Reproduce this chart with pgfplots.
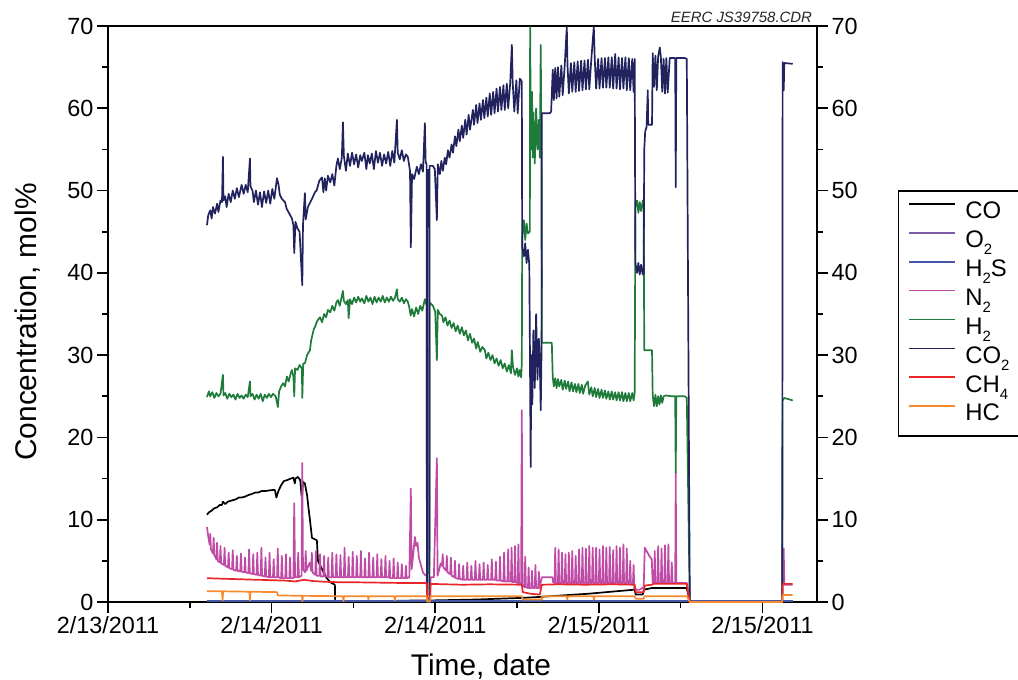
\documentclass[border=0pt]{standalone}
\usepackage{pgfplots}
\pgfplotsset{compat=1.18}
\usepackage{fontspec}
\setmainfont{Liberation Sans}
\definecolor{cCO}{HTML}{000000}
\definecolor{cO2}{HTML}{7B5AA6}
\definecolor{cH2S}{HTML}{4658A8}
\definecolor{cN2}{HTML}{C04BA6}
\definecolor{cH2}{HTML}{1E7B3A}
\definecolor{cCO2}{HTML}{22235E}
\definecolor{cCH4}{HTML}{E8262A}
\definecolor{cHC}{HTML}{F58A2E}
\newcommand{\sub}[1]{\raisebox{-0.3em}{\fontsize{15}{15}\selectfont #1}}
\begin{document}
\begin{tikzpicture}
\pgfplotsset{
  commonax/.style={
    at={(0,0)}, anchor=south west,
    width=709bp, height=576bp, scale only axis,
    xmin=0, xmax=52, ymin=0, ymax=70,
    ytick={0,10,...,70}, minor y tick num=1,
    tick align=outside,
    major tick length=11bp, minor tick length=5.5bp,
    every tick/.style={black, line width=1.6bp},
    axis line style={line width=1.6bp},
    tick label style={font=\fontsize{23.5}{25}\selectfont},
    /pgf/number format/assume math mode=true,
  }
}
\begin{axis}[commonax,
  xtick={0,12,24,36,48},
  xticklabels={2/13/2011,2/14/2011,2/14/2011,2/15/2011,2/15/2011},
  minor x tick num=1,
  xtick pos=left, ytick pos=left,
  label style={font=\fontsize{30}{32}\selectfont},
  xlabel={Time, date},
  ylabel={Concentration, mol\%},
  xlabel style={at={(axis description cs:0.526,-0.127)}, anchor=base},
  ylabel style={at={(axis description cs:-0.114,0.486)}, anchor=center},
  clip=false,
  every axis plot/.append style={line join=round, no marks},
  legend style={at={(axis description cs:1.114,0.715)}, anchor=north west,
    draw=black, line width=1.6bp, font=\fontsize{24}{28}\selectfont,
    inner xsep=10bp, inner ysep=7bp,
    nodes={inner ysep=3.2bp, inner xsep=3bp, text height=17.5bp, text depth=5bp},
    /tikz/every odd column/.append style={column sep=6bp}},
  legend cell align=left,
  legend image code/.code={\draw[#1] (0bp,8.5bp) -- (46bp,8.5bp);},
]
% CO
\addplot[color=cCO, line width=1.7bp] coordinates {(7.26,10.6) (7.4,10.9) (7.6,11.1) (7.8,11.4) (8.0,11.5) (8.2,11.8) (8.36,11.8) (8.43,12.2) (8.6,11.9) (8.8,12.2) (9.0,12.3) (9.2,12.4) (9.4,12.5) (9.6,12.7) (9.8,12.7) (10.04,12.8) (10.3,13.0) (10.5,13.1) (10.8,13.3) (11.0,13.3) (11.3,13.5) (11.6,13.5) (12.0,13.6) (12.24,13.6) (12.35,12.7) (12.5,13.5) (12.7,14.2) (12.9,14.7) (13.12,14.8) (13.4,15.0) (13.6,15.1) (13.7,14.4) (13.75,15.0) (13.93,15.2) (14.1,14.8) (14.22,12.5) (14.3,14.6) (14.44,14.4) (14.6,13.0) (14.7,11.5) (14.81,10.0) (14.96,7.8) (15.2,7.6) (15.32,7.5) (15.4,5.0) (15.7,4.0) (16.0,3.0) (16.3,2.4) (16.64,2.1) (16.66,0) (17.5,0.05) (20,0.1) (23,0.2) (24,0.2) (27,0.3) (30.35,0.5) (31.5,0.6) (35.19,1.0) (38.63,1.5) (38.7,0.9) (39.22,0.9) (39.3,1.5) (39.88,1.7) (42.45,1.7) (42.67,0) (49.45,0) (50.22,0)};
\addlegendentry{CO}
% O2
\addplot[color=cO2, line width=1.7bp] coordinates {(7.26,0.05) (42.67,0.05) (50.22,0.05)};
\addlegendentry{O\sub{2}}
% H2S
\addplot[color=cH2S, line width=1.7bp] coordinates {(7.26,0.1) (42.67,0.1) (50.22,0.1)};
\addlegendentry{H\sub{2}S}
% N2
\addplot[color=cN2, line width=1.7bp] coordinates {(7.26,9.1) (7.35,8.0) (7.45,7.0) (7.5,8.3) (7.55,6.4) (7.7,5.9) (7.75,7.8) (7.8,5.7) (7.95,5.2) (8.0,7.2) (8.05,5.0) (8.2,4.8) (8.25,6.8) (8.3,4.7) (8.5,4.5) (8.55,6.6) (8.6,4.4) (8.8,4.2) (8.85,6.0) (8.9,4.1) (9.1,4.0) (9.15,6.3) (9.2,3.9) (9.4,3.8) (9.45,5.6) (9.5,3.8) (9.7,3.7) (9.75,5.9) (9.8,3.7) (10.0,3.6) (10.05,5.4) (10.1,3.6) (10.3,3.5) (10.35,6.4) (10.4,3.5) (10.6,3.4) (10.65,5.8) (10.7,3.4) (10.9,3.3) (10.95,6.0) (11.0,3.3) (11.2,3.2) (11.25,6.6) (11.3,3.2) (11.5,3.1) (11.55,5.4) (11.6,3.1) (11.8,3.0) (11.85,6.0) (11.9,3.0) (12.1,3.0) (12.15,5.2) (12.2,3.0) (12.4,3.0) (12.45,6.5) (12.5,3.0) (12.7,2.9) (12.75,5.6) (12.8,2.9) (13.0,2.9) (13.05,5.8) (13.1,2.9) (13.3,2.9) (13.35,5.4) (13.4,2.9) (13.6,2.9) (13.66,12.0) (13.72,3.0) (13.9,3.0) (13.95,6.0) (14.0,3.0) (14.2,3.2) (14.25,16.9) (14.3,4.0) (14.45,3.6) (14.5,6.2) (14.55,3.8) (14.7,4.4) (14.8,4.8) (14.9,3.8) (14.95,6.0) (15.0,3.6) (15.2,3.3) (15.25,6.2) (15.3,3.2) (15.5,3.2) (15.55,5.8) (15.6,3.1) (15.8,3.1) (15.85,5.6) (15.9,3.1) (16.1,3.1) (16.15,5.4) (16.2,3.0) (16.4,3.0) (16.45,6.0) (16.5,3.0) (16.7,3.0) (16.75,5.8) (16.8,3.0) (17.0,3.0) (17.05,5.7) (17.1,3.0) (17.3,3.0) (17.35,6.6) (17.4,3.0) (17.6,3.0) (17.65,5.5) (17.7,3.0) (17.9,3.0) (17.95,6.1) (18.0,3.0) (18.2,3.0) (18.25,5.6) (18.3,3.0) (18.5,3.0) (18.55,6.2) (18.6,3.0) (18.8,3.0) (18.85,5.3) (18.9,3.0) (19.1,3.0) (19.15,6.0) (19.2,3.0) (19.4,3.0) (19.45,5.4) (19.5,3.0) (19.7,3.0) (19.75,5.8) (19.8,3.0) (20.0,3.0) (20.05,5.2) (20.1,3.0) (20.3,3.0) (20.35,5.6) (20.4,3.0) (20.6,3.0) (20.65,5.0) (20.7,2.9) (20.9,2.9) (20.95,5.3) (21.0,2.9) (21.2,2.9) (21.25,4.8) (21.3,2.9) (21.5,2.9) (21.55,4.6) (21.6,2.9) (21.8,2.9) (21.85,4.4) (21.9,2.9) (22.1,3.0) (22.21,13.8) (22.27,4.0) (22.4,6.0) (22.51,7.9) (22.6,6.8) (22.7,7.2) (22.8,5.4) (22.9,4.8) (23.0,4.2) (23.1,3.6) (23.24,3.3) (23.38,3.2) (23.40,0) (23.62,0) (23.66,3.0) (23.9,3.0) (24.12,17.5) (24.17,3.2) (24.3,4.0) (24.4,4.7) (24.5,4.4) (24.55,5.8) (24.6,4.2) (24.8,3.8) (24.85,5.6) (24.9,3.6) (25.1,3.4) (25.15,5.4) (25.2,3.2) (25.4,3.0) (25.45,5.0) (25.5,2.9) (25.7,2.8) (25.75,4.6) (25.8,2.8) (26.0,2.7) (26.05,4.4) (26.1,2.7) (26.3,2.7) (26.35,4.8) (26.4,2.7) (26.6,2.7) (26.65,4.4) (26.7,2.7) (26.9,2.7) (26.95,5.0) (27.0,2.7) (27.2,2.7) (27.25,4.6) (27.3,2.7) (27.5,2.7) (27.55,4.8) (27.6,2.7) (27.8,2.7) (27.85,4.5) (27.9,2.7) (28.1,2.7) (28.15,5.2) (28.2,2.7) (28.4,2.7) (28.45,4.9) (28.5,2.6) (28.7,2.6) (28.75,5.5) (28.8,2.6) (29.0,2.5) (29.05,6.0) (29.1,2.5) (29.3,2.5) (29.35,6.4) (29.4,2.5) (29.55,2.5) (29.6,6.6) (29.65,2.4) (29.8,2.4) (29.85,6.8) (29.9,2.4) (30.05,2.3) (30.1,7.0) (30.15,2.3) (30.3,2.3) (30.35,23.3) (30.4,2.0) (30.55,1.8) (30.6,5.5) (30.65,1.8) (30.8,1.7) (30.85,4.2) (30.9,1.7) (31.05,1.7) (31.1,3.8) (31.15,1.7) (31.3,1.7) (31.35,4.5) (31.4,1.7) (31.55,1.7) (31.6,3.7) (31.65,1.7) (31.82,3.0) (32.6,3.0) (32.65,2.4) (32.75,2.3) (32.8,6.6) (32.85,2.3) (33.0,2.3) (33.05,6.4) (33.1,2.3) (33.25,2.3) (33.3,6.0) (33.35,2.3) (33.5,2.3) (33.55,5.8) (33.6,2.3) (33.75,2.3) (33.8,6.0) (33.85,2.3) (34.0,2.3) (34.05,6.2) (34.1,2.3) (34.25,2.3) (34.3,5.6) (34.35,2.3) (34.5,2.3) (34.55,6.4) (34.6,2.3) (34.75,2.3) (34.8,6.6) (34.85,2.3) (35.0,2.3) (35.05,6.5) (35.1,2.3) (35.25,2.3) (35.3,6.8) (35.35,2.3) (35.5,2.3) (35.55,6.6) (35.6,2.3) (35.75,2.3) (35.8,6.6) (35.85,2.3) (36.0,2.3) (36.05,6.4) (36.1,2.3) (36.25,2.3) (36.3,6.8) (36.35,2.3) (36.5,2.3) (36.55,6.6) (36.6,2.3) (36.75,2.3) (36.8,6.7) (36.85,2.3) (37.0,2.3) (37.05,6.3) (37.1,2.3) (37.25,2.3) (37.3,6.8) (37.35,2.3) (37.5,2.3) (37.55,6.6) (37.6,2.3) (37.75,2.3) (37.8,7.0) (37.85,2.3) (38.0,2.3) (38.05,6.5) (38.1,2.3) (38.25,2.3) (38.3,5.0) (38.35,2.3) (38.5,2.3) (38.55,4.5) (38.6,1.6) (38.8,1.5) (39.0,1.5) (39.29,1.8) (39.37,6.6) (39.5,6.2) (39.7,5.6) (39.88,5.2) (39.95,2.3) (40.05,2.3) (40.1,6.2) (40.15,2.3) (40.3,2.3) (40.35,6.8) (40.4,2.3) (40.55,2.3) (40.6,6.5) (40.65,2.3) (40.8,2.3) (40.85,6.9) (40.9,2.3) (41.05,2.3) (41.1,7.0) (41.15,2.3) (41.3,2.3) (41.35,4.8) (41.4,2.3) (41.6,2.3) (41.64,15.7) (41.68,2.3) (42.45,2.3) (42.67,0) (49.45,0) (49.48,2.1) (49.56,6.5) (49.6,2.1) (50.22,2.1)};
\addlegendentry{N\sub{2}}
% H2
\addplot[color=cH2, line width=1.7bp] coordinates {(7.26,24.9) (7.4,25.6) (7.5,25.0) (7.65,25.5) (7.8,24.8) (7.95,25.4) (8.1,25.0) (8.25,25.3) (8.43,27.6) (8.47,25.1) (8.6,25.4) (8.75,24.7) (8.9,25.3) (9.05,24.9) (9.2,25.2) (9.35,24.6) (9.5,25.3) (9.65,24.8) (9.8,25.1) (9.95,24.7) (10.1,25.2) (10.25,24.9) (10.41,26.8) (10.45,25.0) (10.6,25.3) (10.75,24.6) (10.9,25.2) (11.05,24.7) (11.2,25.3) (11.35,24.4) (11.5,25.2) (11.65,24.8) (11.8,25.3) (11.95,24.9) (12.1,25.3) (12.3,25.0) (12.46,23.7) (12.55,25.6) (12.7,26.2) (12.85,26.6) (12.98,26.2) (13.12,27.4) (13.25,26.8) (13.4,27.8) (13.49,28.2) (13.6,27.4) (13.66,25.0) (13.72,28.4) (13.9,28.2) (14.05,28.8) (14.22,28.4) (14.25,24.8) (14.32,29.0) (14.44,29.0) (14.6,30.0) (14.81,30.6) (14.9,31.8) (14.96,32.2) (15.1,33.2) (15.18,33.4) (15.3,34.0) (15.40,34.3) (15.55,34.6) (15.7,34.0) (15.85,35.0) (16.0,34.6) (16.13,35.5) (16.3,35.2) (16.45,36.0) (16.6,35.4) (16.75,36.4) (16.86,36.7) (17.0,36.0) (17.23,37.8) (17.3,36.6) (17.45,36.2) (17.59,36.7) (17.65,34.5) (17.75,36.8) (17.9,36.2) (18.05,37.0) (18.2,36.4) (18.35,37.1) (18.5,36.5) (18.62,36.9) (18.8,36.3) (18.95,37.2) (19.1,36.5) (19.25,37.0) (19.4,36.2) (19.55,37.1) (19.7,36.4) (19.85,37.0) (20.0,36.5) (20.15,37.2) (20.3,36.4) (20.45,37.0) (20.6,36.5) (20.75,37.1) (20.9,36.6) (21.05,37.0) (21.19,38.0) (21.25,36.8) (21.4,36.5) (21.55,37.0) (21.7,36.3) (21.85,36.8) (21.99,36.5) (22.1,35.8) (22.2,34.8) (22.3,35.6) (22.45,34.7) (22.6,35.8) (22.75,35.0) (22.9,36.0) (23.05,35.4) (23.24,36.8) (23.38,36.0) (23.39,0) (23.57,0) (23.59,36.4) (23.83,36.0) (24.0,35.3) (24.12,29.4) (24.19,35.5) (24.34,35.0) (24.5,34.8) (24.6,34.0) (24.75,34.6) (24.9,33.6) (25.05,34.2) (25.2,33.3) (25.35,33.9) (25.5,32.9) (25.65,33.6) (25.8,32.6) (25.95,33.4) (26.1,32.4) (26.25,33.0) (26.4,31.8) (26.55,32.6) (26.7,31.5) (26.85,32.0) (27.0,30.8) (27.12,31.6) (27.3,30.4) (27.45,31.0) (27.64,30.6) (27.75,29.6) (27.9,30.3) (28.05,29.4) (28.2,30.0) (28.35,29.0) (28.5,29.6) (28.65,28.7) (28.8,29.4) (28.95,28.4) (29.1,29.0) (29.25,28.0) (29.4,28.8) (29.55,27.8) (29.62,30.6) (29.7,28.6) (29.85,27.6) (30.0,28.4) (30.1,27.4) (30.2,28.2) (30.3,27.3) (30.35,29.0) (30.38,44.4) (30.5,46.4) (30.6,44.0) (30.7,46.0) (30.8,44.8) (30.94,45.0) (30.96,69.9) (31.0,60.0) (31.05,55.0) (31.1,62.0) (31.15,54.0) (31.2,59.5) (31.3,53.3) (31.4,60.0) (31.5,55.0) (31.6,58.6) (31.67,54.0) (31.74,67.7) (31.78,56.0) (31.82,31.5) (32.55,31.5) (32.62,27.3) (32.7,26.2) (32.8,27.2) (32.9,26.0) (33.0,27.1) (33.1,26.2) (33.25,27.0) (33.35,25.8) (33.5,26.9) (33.6,25.9) (33.75,26.8) (33.85,25.6) (34.0,26.7) (34.1,25.6) (34.25,26.5) (34.35,25.5) (34.5,26.5) (34.6,25.4) (34.75,26.4) (34.85,25.3) (35.0,26.3) (35.19,26.8) (35.3,25.2) (35.45,26.1) (35.55,25.0) (35.7,26.0) (35.8,24.9) (35.95,25.9) (36.05,24.8) (36.2,25.8) (36.3,24.8) (36.45,25.7) (36.55,24.7) (36.7,25.6) (36.8,24.6) (36.95,25.6) (37.05,24.6) (37.2,25.5) (37.3,24.5) (37.45,25.5) (37.55,24.5) (37.7,25.5) (37.8,24.4) (37.95,25.4) (38.05,24.4) (38.2,25.4) (38.3,24.4) (38.45,25.4) (38.55,24.5) (38.63,25.5) (38.68,48.0) (38.8,48.8) (38.9,47.3) (39.0,48.6) (39.1,47.5) (39.22,48.8) (39.29,48.5) (39.33,30.6) (39.9,30.6) (39.95,25.1) (40.05,23.8) (40.15,25.2) (40.25,23.8) (40.35,25.0) (40.45,24.0) (40.55,25.1) (40.65,24.2) (40.75,25.0) (40.9,25.1) (41.35,25.0) (41.6,25.0) (41.64,15.7) (41.68,25.0) (42.30,25.0) (42.45,24.8) (42.67,0) (49.45,0) (49.48,24.5) (49.6,24.8) (50.22,24.5)};
\addlegendentry{H\sub{2}}
% CO2
\addplot[color=cCO2, line width=1.7bp] coordinates {(7.26,45.8) (7.35,47.0) (7.5,47.6) (7.6,46.6) (7.7,48.0) (7.85,47.2) (8.0,48.4) (8.1,47.4) (8.25,48.8) (8.36,48.6) (8.43,54.1) (8.47,48.8) (8.6,49.3) (8.7,48.0) (8.85,49.6) (9.0,48.6) (9.15,50.0) (9.3,49.0) (9.45,50.3) (9.6,49.2) (9.8,50.7) (9.95,49.6) (10.1,50.7) (10.25,49.8) (10.41,53.9) (10.45,50.5) (10.6,50.0) (10.7,48.6) (10.85,50.0) (11.0,48.3) (11.15,49.8) (11.29,48.0) (11.45,49.9) (11.6,48.5) (11.75,50.0) (11.9,48.4) (12.05,50.2) (12.2,49.0) (12.39,51.5) (12.5,50.8) (12.6,49.5) (12.75,49.0) (12.98,48.6) (13.1,47.8) (13.3,47.2) (13.49,46.6) (13.6,45.8) (13.66,42.4) (13.75,46.2) (13.9,45.4) (14.05,45.0) (14.25,38.5) (14.3,45.8) (14.44,49.7) (14.5,46.5) (14.66,48.0) (14.81,48.5) (14.96,49.0) (15.18,49.8) (15.3,50.0) (15.5,51.2) (15.69,51.6) (15.8,49.8) (15.9,51.5) (16.0,50.0) (16.13,51.8) (16.3,51.0) (16.45,52.0) (16.6,50.6) (16.75,53.0) (16.86,53.9) (17.0,52.6) (17.15,54.0) (17.23,58.3) (17.3,54.2) (17.45,52.4) (17.59,54.5) (17.75,53.0) (17.9,54.6) (18.05,53.2) (18.2,54.4) (18.35,52.8) (18.5,54.3) (18.62,53.6) (18.8,54.6) (18.95,52.6) (19.06,54.3) (19.2,53.3) (19.35,54.5) (19.5,52.6) (19.65,54.8) (19.8,53.4) (19.95,54.6) (20.1,53.0) (20.25,54.4) (20.4,53.3) (20.55,54.7) (20.7,53.0) (20.85,54.8) (21.0,53.4) (21.19,58.6) (21.25,54.6) (21.4,53.8) (21.55,54.9) (21.7,53.6) (21.85,54.4) (21.99,54.1) (22.15,52.4) (22.21,43.1) (22.3,52.0) (22.45,51.4) (22.65,52.9) (22.8,52.0) (22.95,53.2) (23.1,52.3) (23.24,58.2) (23.3,53.4) (23.37,53.2) (23.39,0) (23.41,52.5) (23.55,52.5) (23.57,0) (23.59,53.0) (23.83,53.0) (23.97,52.6) (24.12,46.4) (24.19,53.2) (24.34,52.0) (24.45,53.6) (24.56,52.4) (24.7,54.0) (24.8,53.2) (24.93,54.9) (25.05,54.0) (25.2,55.6) (25.3,54.6) (25.45,56.6) (25.55,55.4) (25.7,57.4) (25.8,56.0) (25.95,57.9) (26.05,56.4) (26.2,58.6) (26.3,56.8) (26.45,59.2) (26.55,57.4) (26.76,59.8) (26.85,58.0) (27.0,60.4) (27.1,58.2) (27.25,60.6) (27.35,58.6) (27.5,61.0) (27.6,58.8) (27.75,61.3) (27.85,59.0) (28.0,61.8) (28.1,59.2) (28.25,62.0) (28.35,59.4) (28.5,62.4) (28.6,59.6) (28.75,62.6) (28.85,59.8) (29.0,62.8) (29.1,59.8) (29.25,63.0) (29.35,60.0) (29.5,63.1) (29.62,67.7) (29.68,63.2) (29.8,59.6) (29.95,63.4) (30.05,59.4) (30.2,63.6) (30.3,63.4) (30.35,63.2) (30.38,43.1) (30.5,42.0) (30.6,43.6) (30.7,41.2) (30.8,42.8) (30.9,41.0) (30.94,32.0) (31.0,16.4) (31.05,30) (31.12,24) (31.2,33) (31.3,26) (31.4,35) (31.5,27) (31.6,32) (31.67,29) (31.74,23.3) (31.8,31) (31.82,59.4) (32.4,59.4) (32.5,59.6) (32.62,64.7) (32.7,61.0) (32.8,64.9) (32.9,61.2) (33.0,65.0) (33.1,61.4) (33.25,65.2) (33.35,61.6) (33.5,65.3) (33.65,69.9) (33.7,65.3) (33.8,61.8) (33.95,65.5) (34.05,62.0) (34.2,65.6) (34.3,62.0) (34.45,65.7) (34.55,62.1) (34.7,65.8) (34.8,62.2) (34.95,65.8) (35.05,62.3) (35.2,65.9) (35.3,62.3) (35.45,66.0) (35.63,69.9) (35.7,66.0) (35.8,62.4) (35.95,66.0) (36.05,62.4) (36.2,66.1) (36.3,62.5) (36.45,66.1) (36.55,62.5) (36.7,66.2) (36.8,62.5) (36.95,66.2) (37.05,62.4) (37.2,66.6) (37.3,62.4) (37.45,66.2) (37.55,62.3) (37.7,66.1) (37.8,62.4) (37.95,66.2) (38.05,62.2) (38.2,66.1) (38.3,62.2) (38.45,66.0) (38.55,62.0) (38.63,66.0) (38.68,41.2) (38.8,40.0) (38.9,41.2) (39.0,39.8) (39.1,41.0) (39.22,39.8) (39.29,40.0) (39.33,55.0) (39.4,57.2) (39.5,57.7) (39.59,62.2) (39.62,58.0) (39.9,58.0) (39.95,66.7) (40.05,62.6) (40.15,66.4) (40.25,62.2) (40.35,66.3) (40.47,67.4) (40.55,66.2) (40.65,62.0) (40.75,66.0) (40.85,61.8) (40.95,66.1) (41.05,61.9) (41.2,66.1) (41.35,66.1) (41.6,66.1) (41.64,50.4) (41.68,66.1) (42.30,66.1) (42.45,66.0) (42.67,0) (49.45,0) (49.48,65.6) (49.56,62.2) (49.6,65.5) (50.22,65.4)};
\addlegendentry{CO\sub{2}}
% CH4
\addplot[color=cCH4, line width=1.7bp] coordinates {(7.26,2.9) (8,2.85) (9,2.8) (10,2.75) (11,2.7) (12,2.65) (13,2.6) (13.71,2.5) (14.4,2.7) (15,2.55) (16,2.45) (17,2.4) (18,2.4) (20,2.35) (22,2.3) (23.38,2.3) (23.40,0.5) (23.62,0.5) (23.66,2.2) (26,2.1) (28,2.15) (30.35,2.1) (30.42,1.2) (31,1.0) (31.67,0.9) (31.82,2.1) (33,2.15) (35,2.1) (37,2.15) (38.63,2.1) (38.7,1.2) (39.29,1.2) (39.37,2.0) (39.9,2.1) (40.0,2.2) (42.45,2.2) (42.67,0) (49.45,0) (49.48,2.2) (50.22,2.2)};
\addlegendentry{CH\sub{4}}
% HC
\addplot[color=cHC, line width=1.7bp] coordinates {(7.26,1.3) (8.36,1.3) (8.4,0.2) (8.45,1.3) (10.37,1.25) (10.41,0.2) (10.45,1.25) (12.39,1.2) (12.46,0.8) (14.22,0.75) (14.26,0.1) (14.3,0.75) (17.23,0.7) (17.27,0.1) (17.31,0.7) (19.06,0.7) (19.1,0.3) (19.14,0.7) (21.0,0.7) (21.04,0.2) (21.08,0.7) (23.38,0.7) (23.40,0.1) (23.62,0.1) (23.66,0.7) (30.35,0.7) (30.42,0.3) (31.82,0.3) (31.86,0.7) (33.65,0.7) (33.69,0.3) (33.73,0.7) (35.6,0.7) (35.64,0.3) (35.68,0.7) (38.63,0.7) (38.7,0.4) (39.29,0.4) (39.35,0.7) (42.45,0.7) (42.67,0) (49.45,0) (49.48,0.85) (50.22,0.85)};
\addlegendentry{HC}
\node[anchor=base east, font=\itshape\fontsize{15}{15}\selectfont, text=black!85] at (axis description cs:0.998,1) [yshift=4bp] {EERC JS39758.CDR};
\end{axis}
\begin{axis}[commonax,
  axis x line=none, axis y line*=right,
]
\addplot[draw=none] coordinates {(0,0)};
\end{axis}
\pgfresetboundingbox
\useasboundingbox (-108bp,-78bp) rectangle (910bp,602bp);
\end{tikzpicture}
\end{document}
